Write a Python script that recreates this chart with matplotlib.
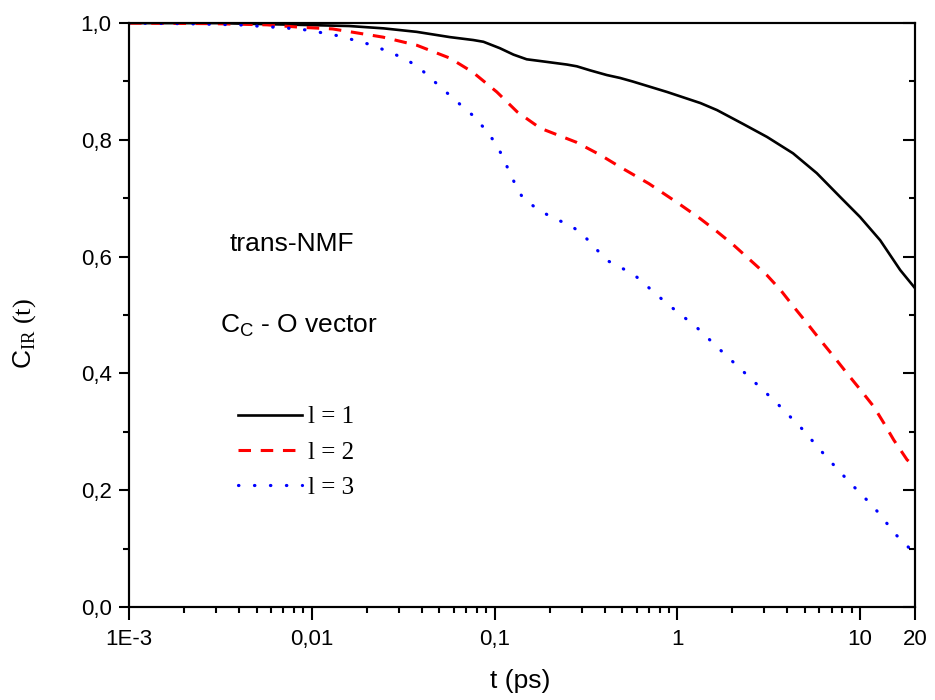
import matplotlib
matplotlib.use('Agg')
import matplotlib.pyplot as plt
from matplotlib.ticker import FixedLocator, LogLocator, NullFormatter, MultipleLocator

plt.rcParams['font.family'] = ['Liberation Sans', 'DejaVu Sans']
plt.rcParams['mathtext.fontset'] = 'custom'
plt.rcParams['mathtext.rm'] = 'Liberation Serif'
plt.rcParams['mathtext.sf'] = 'Liberation Sans'
plt.rcParams['lines.scale_dashes'] = False

# Datos (t en ps)
t1 = [0.001, 0.003, 0.0086, 0.016, 0.0247, 0.0375, 0.057, 0.0765, 0.087, 0.107, 0.127, 0.15,
      0.178, 0.249, 0.282, 0.334, 0.412, 0.487, 0.57, 0.88, 1.34, 1.65, 2.3, 3.1, 4.3, 5.8,
      7.8, 10, 12.9, 16.6, 20]
c1 = [1.0, 1.0, 0.997, 0.995, 0.991, 0.985, 0.976, 0.971, 0.968, 0.957, 0.946, 0.938,
      0.935, 0.929, 0.926, 0.919, 0.911, 0.906, 0.900, 0.882, 0.863, 0.851, 0.827, 0.805,
      0.777, 0.743, 0.702, 0.668, 0.628, 0.577, 0.546]

t2 = [0.001, 0.003, 0.0057, 0.0086, 0.013, 0.0245, 0.0376, 0.057, 0.076, 0.103, 0.133, 0.178,
      0.28, 0.38, 0.49, 0.7, 1.017, 1.337, 1.65, 2.03, 2.51, 3.1, 3.67, 4.34, 5.13, 6.07,
      7.18, 8.5, 10.05, 11.9, 13.5, 15.3, 18.1, 20]
c2 = [1.0, 0.999, 0.997, 0.993, 0.99, 0.976, 0.962, 0.94, 0.916, 0.882, 0.848, 0.820,
      0.796, 0.774, 0.753, 0.725, 0.691, 0.665, 0.643, 0.620, 0.594, 0.568, 0.543, 0.514,
      0.486, 0.457, 0.429, 0.400, 0.372, 0.343, 0.315, 0.286, 0.252, 0.24]

t3 = [0.001, 0.002, 0.004, 0.0062, 0.0076, 0.0095, 0.0141, 0.0216, 0.033, 0.0405, 0.05, 0.062,
      0.076, 0.092, 0.105, 0.116, 0.128, 0.143, 0.171, 0.209, 0.26, 0.306, 0.41, 0.576, 0.867,
      1.266, 1.79, 2.49, 3.51, 4.82, 6.54, 8.8, 11.9, 15.8, 19.0, 20]
c3 = [1.0, 0.999, 0.997, 0.993, 0.991, 0.988, 0.978, 0.962, 0.938, 0.918, 0.892, 0.866,
      0.842, 0.813, 0.786, 0.757, 0.728, 0.70, 0.682, 0.666, 0.654, 0.637, 0.594, 0.570, 0.521,
      0.480, 0.435, 0.393, 0.349, 0.305, 0.257, 0.213, 0.171, 0.123, 0.098, 0.095]

xticks = [0.001, 0.01, 0.1, 1, 10, 20]
xlabels = ['1E-3', '0,01', '0,1', '1', '10', '20']
yticks = [0.0, 0.2, 0.4, 0.6, 0.8, 1.0]
ylabels = ['0,0', '0,2', '0,4', '0,6', '0,8', '1,0']
series_labels = ['l = 1', 'l = 2', 'l = 3']

fig = plt.figure(figsize=(9.35, 7), dpi=100)
ax = fig.add_axes([0.138, 0.133, 0.8406, 0.834])

ax.plot(t1, c1, color='black', lw=1.9, label=series_labels[0])
ax.plot(t2, c2, color='red', lw=2.2, linestyle=(0, (9, 7)), label=series_labels[1])
ax.plot(t3, c3, color='blue', lw=2.3, linestyle=(0, (0.3, 11.2)), dash_capstyle='round',
        label=series_labels[2])

ax.set_xscale('log')
ax.set_xlim(0.001, 20)
ax.set_ylim(0, 1)

ax.xaxis.set_major_locator(FixedLocator(xticks))
ax.set_xticklabels(xlabels)
ax.xaxis.set_minor_locator(LogLocator(base=10, subs=range(2, 10)))
ax.xaxis.set_minor_formatter(NullFormatter())
ax.set_yticks(yticks)
ax.set_yticklabels(ylabels)
ax.yaxis.set_minor_locator(MultipleLocator(0.1))

for s in ax.spines.values():
    s.set_linewidth(1.5)

ax.tick_params(axis='x', which='both', direction='out', top=False, labelsize=16, width=1.5, pad=7)
ax.tick_params(axis='x', which='major', length=9)
ax.tick_params(axis='x', which='minor', length=4.5)
ax.tick_params(axis='y', which='both', left=True, right=False, direction='out', labelsize=16,
               width=1.5, pad=5.5)
ax.tick_params(axis='y', which='major', length=7)
ax.tick_params(axis='y', which='minor', length=4)

# ticks interiores del eje derecho
ax2 = ax.twinx()
ax2.set_ylim(0, 1)
ax2.set_yticks(yticks)
ax2.yaxis.set_minor_locator(MultipleLocator(0.1))
ax2.tick_params(axis='y', which='both', direction='in', labelright=False, width=1.5)
ax2.tick_params(axis='y', which='major', length=8.5)
ax2.tick_params(axis='y', which='minor', length=4.5)
for s in ax2.spines.values():
    s.set_linewidth(1.5)

# etiquetas de los ejes
ax.text(0.4975, -0.1267, 't (ps)', transform=ax.transAxes, fontsize=19,
        ha='center', va='center')
ax.text(-0.1325, 0.469, r'$\mathsf{C}_{\mathrm{IR}}$ (t)', transform=ax.transAxes,
        fontsize=19, family='Liberation Serif', rotation=90, ha='center', va='center')

ax.text(0.1285, 0.610, 'trans-NMF', transform=ax.transAxes, fontsize=19, va='baseline')
ax.text(0.116, 0.469, r'$\mathsf{C_C}$ - O vector', transform=ax.transAxes, fontsize=19,
        va='baseline')

ax.legend(loc='upper left', bbox_to_anchor=(0.1387, 0.3442), frameon=False,
          prop={'family': 'Liberation Serif', 'size': 18}, handlelength=2.56,
          handletextpad=0.24, labelspacing=0.51, borderpad=0, borderaxespad=0)

plt.savefig('out.png', dpi=100)
